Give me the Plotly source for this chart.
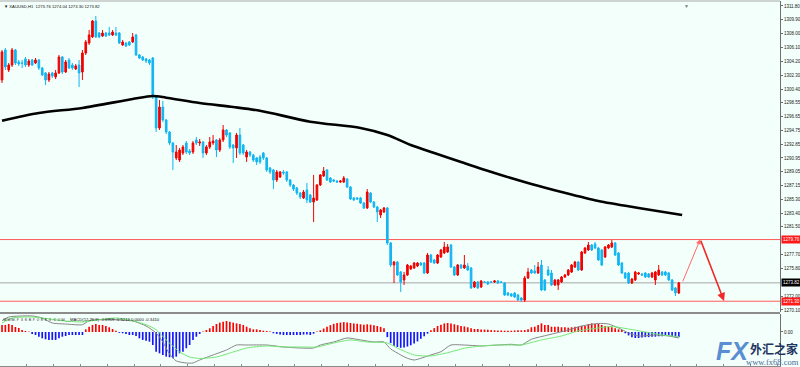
import plotly.graph_objects as go

# ---------------- data ----------------
header_text = "▼ XAUUSD,H1  1273.76 1274.04 1273.30 1273.82"
macd_text = "ＷＷＷ.ＦＸ６８ＦＯＲＥＸ.ＣＯＭ__MACD(12,26,9) -0.6919 -0.5213 0.0000 -0.3410"

opens = [
    1301.65, 1305.76, 1303.02, 1303.70, 1305.76, 1304.12, 1303.98, 1304.53, 1303.70, 1304.39,
    1303.98, 1304.39, 1303.29, 1302.61, 1301.65, 1302.61, 1302.06, 1302.61, 1304.80, 1302.74,
    1304.39, 1303.70, 1303.16, 1303.70, 1302.74, 1305.35, 1306.72, 1307.55, 1309.74, 1308.09,
    1307.68, 1308.09, 1308.09, 1307.82, 1308.09, 1308.09, 1306.45, 1306.72, 1306.86, 1306.86,
    1307.82, 1305.08, 1304.80, 1304.53, 1304.39, 1304.66, 1299.31, 1295.06, 1297.94, 1296.16,
    1294.51, 1293.00, 1290.95, 1290.67, 1291.63, 1293.00, 1291.91, 1291.77, 1293.42, 1293.00,
    1293.14, 1291.63, 1292.46, 1293.00, 1293.42, 1292.04, 1293.42, 1294.79, 1294.38, 1292.73,
    1292.32, 1294.10, 1292.73, 1291.08, 1291.77, 1291.36, 1290.95, 1291.08, 1291.63, 1290.95,
    1289.58, 1289.30, 1287.93, 1288.34, 1289.03, 1289.03, 1287.93, 1287.24, 1286.83, 1286.14,
    1285.46, 1286.56, 1285.87, 1284.91, 1285.19, 1287.24, 1288.48, 1289.30, 1288.20, 1287.93,
    1287.79, 1287.65, 1287.65, 1288.06, 1286.97, 1285.46, 1285.46, 1285.46, 1284.77, 1284.09,
    1286.14, 1284.91, 1284.23, 1283.13, 1283.54, 1284.09, 1279.29, 1276.27, 1276.68, 1275.31,
    1274.21, 1274.90, 1275.72, 1275.86, 1276.13, 1276.54, 1276.54, 1275.17, 1277.64, 1276.96,
    1276.54, 1277.37, 1277.92, 1278.05, 1279.01, 1275.99, 1274.90, 1276.27, 1275.86, 1276.13,
    1275.86, 1273.25, 1273.94, 1273.25, 1273.94, 1273.94, 1273.94, 1273.94, 1274.08, 1273.94,
    1273.80, 1272.43, 1272.29, 1272.43, 1272.16, 1271.74, 1271.47, 1274.49, 1275.58, 1275.45,
    1275.17, 1276.27, 1274.21, 1275.58, 1275.17, 1273.53, 1273.53, 1273.94, 1274.62, 1274.90,
    1275.31, 1275.99, 1276.68, 1275.58, 1277.92, 1278.33, 1279.01, 1279.15, 1278.60, 1278.33,
    1277.37, 1278.60, 1278.74, 1279.29, 1277.92, 1276.54, 1275.17, 1275.17, 1273.80, 1274.21,
    1275.04, 1275.04, 1275.17, 1275.04, 1274.62, 1274.21, 1274.90, 1275.31, 1275.31, 1275.17,
    1274.21, 1273.12, 1272.43,
]
highs = [
    1305.76, 1306.04, 1303.98, 1306.04, 1305.90, 1304.39, 1304.39, 1304.80, 1304.53, 1304.53,
    1304.66, 1304.53, 1303.43, 1302.74, 1302.74, 1302.74, 1303.02, 1305.08, 1304.94, 1304.39,
    1304.66, 1303.98, 1303.84, 1304.39, 1305.76, 1307.13, 1308.50, 1309.88, 1310.43, 1308.23,
    1308.50, 1308.23, 1308.92, 1308.50, 1308.92, 1308.23, 1307.13, 1306.86, 1307.00, 1308.09,
    1307.96, 1305.21, 1304.94, 1304.66, 1304.53, 1304.80, 1299.45, 1298.90, 1298.77, 1296.30,
    1294.65, 1293.14, 1292.73, 1292.32, 1292.73, 1293.28, 1292.18, 1293.28, 1293.83, 1293.55,
    1293.28, 1292.73, 1293.83, 1294.10, 1293.55, 1293.69, 1295.47, 1294.92, 1294.51, 1292.87,
    1294.38, 1295.06, 1292.87, 1292.04, 1291.91, 1291.50, 1291.08, 1291.36, 1291.77, 1291.08,
    1289.71, 1289.44, 1289.30, 1289.16, 1289.30, 1289.16, 1288.06, 1287.38, 1286.97, 1286.28,
    1286.56, 1287.52, 1286.01, 1288.62, 1287.38, 1288.75, 1289.71, 1289.44, 1288.34, 1288.06,
    1287.93, 1287.93, 1288.48, 1288.20, 1287.10, 1285.60, 1285.60, 1285.60, 1284.91, 1286.69,
    1286.28, 1285.05, 1284.36, 1283.95, 1284.23, 1284.23, 1279.43, 1276.82, 1276.82, 1275.45,
    1275.31, 1276.41, 1276.27, 1276.68, 1276.68, 1276.68, 1276.68, 1277.92, 1277.78, 1277.09,
    1277.78, 1278.47, 1279.43, 1279.15, 1279.15, 1276.13, 1276.41, 1276.41, 1277.64, 1276.54,
    1275.99, 1274.08, 1274.08, 1274.21, 1274.08, 1274.08, 1274.08, 1274.21, 1274.21, 1274.08,
    1273.94, 1272.57, 1272.43, 1272.57, 1272.29, 1271.88, 1274.76, 1275.86, 1275.72, 1276.27,
    1276.68, 1276.96, 1274.35, 1276.13, 1275.58, 1274.35, 1274.35, 1274.76, 1275.04, 1275.72,
    1276.41, 1276.82, 1276.82, 1278.19, 1278.74, 1279.43, 1279.15, 1279.43, 1278.74, 1278.47,
    1278.88, 1279.15, 1279.70, 1279.43, 1278.05, 1276.68, 1275.31, 1275.31, 1274.49, 1275.45,
    1275.31, 1275.17, 1275.31, 1275.17, 1275.31, 1275.45, 1276.27, 1275.45, 1275.45, 1275.31,
    1274.35, 1273.25, 1273.94,
]
lows = [
    1301.23, 1303.02, 1302.74, 1303.43, 1303.70, 1303.57, 1303.29, 1303.43, 1303.43, 1303.57,
    1303.84, 1303.02, 1302.20, 1300.96, 1301.37, 1301.92, 1301.78, 1302.47, 1302.47, 1302.61,
    1303.16, 1303.02, 1303.02, 1300.69, 1301.65, 1305.08, 1306.45, 1307.41, 1307.41, 1307.41,
    1307.55, 1307.55, 1307.68, 1307.68, 1307.68, 1306.58, 1306.31, 1306.17, 1306.31, 1306.72,
    1304.94, 1304.53, 1304.25, 1303.98, 1303.70, 1299.04, 1294.51, 1294.79, 1295.89, 1294.24,
    1292.73, 1289.30, 1290.67, 1290.40, 1291.36, 1291.50, 1291.36, 1291.50, 1292.73, 1292.59,
    1290.95, 1291.36, 1292.18, 1292.73, 1291.08, 1291.77, 1293.14, 1293.83, 1292.18, 1290.26,
    1290.95, 1291.36, 1291.36, 1290.40, 1291.08, 1290.40, 1289.99, 1290.12, 1290.67, 1289.03,
    1288.75, 1286.69, 1287.65, 1288.20, 1288.62, 1287.65, 1286.97, 1286.42, 1285.87, 1285.32,
    1285.32, 1284.77, 1284.77, 1282.17, 1285.05, 1287.10, 1288.34, 1287.79, 1287.52, 1287.65,
    1287.52, 1287.52, 1287.52, 1286.83, 1285.19, 1285.05, 1285.19, 1284.64, 1283.95, 1283.95,
    1284.77, 1284.09, 1282.17, 1282.72, 1283.40, 1279.01, 1275.99, 1273.80, 1274.76, 1272.56,
    1273.53, 1274.76, 1275.58, 1275.72, 1275.99, 1276.13, 1275.04, 1275.04, 1276.54, 1276.41,
    1276.41, 1277.23, 1277.78, 1277.92, 1275.86, 1274.76, 1274.76, 1275.72, 1275.72, 1275.45,
    1272.98, 1273.12, 1272.98, 1273.12, 1273.80, 1273.53, 1273.80, 1273.80, 1273.66, 1273.80,
    1272.02, 1272.02, 1271.88, 1271.74, 1271.33, 1271.19, 1271.19, 1274.35, 1275.04, 1275.04,
    1275.04, 1272.70, 1272.70, 1274.76, 1273.39, 1273.39, 1272.84, 1273.80, 1274.49, 1274.76,
    1275.17, 1275.86, 1275.45, 1275.45, 1277.78, 1278.19, 1278.19, 1278.47, 1276.82, 1276.13,
    1277.23, 1278.47, 1278.60, 1277.50, 1276.13, 1275.04, 1274.35, 1273.66, 1273.66, 1274.08,
    1274.90, 1274.76, 1274.49, 1274.49, 1274.49, 1273.53, 1274.76, 1274.76, 1274.76, 1274.08,
    1272.70, 1272.02, 1272.29,
]
closes = [
    1305.49, 1303.43, 1303.70, 1305.76, 1303.98, 1303.84, 1303.95, 1303.70, 1304.25, 1303.70,
    1304.39, 1303.29, 1302.33, 1301.65, 1302.47, 1302.20, 1302.61, 1304.80, 1302.74, 1304.12,
    1303.29, 1303.29, 1303.57, 1302.61, 1305.35, 1306.86, 1307.82, 1309.74, 1307.55, 1307.55,
    1308.09, 1307.68, 1307.82, 1308.23, 1307.82, 1306.72, 1306.86, 1306.31, 1306.45, 1307.55,
    1305.08, 1304.66, 1304.39, 1304.25, 1303.98, 1299.31, 1295.06, 1297.94, 1296.16, 1294.51,
    1293.00, 1291.77, 1291.77, 1292.04, 1292.46, 1291.77, 1291.63, 1293.00, 1293.00, 1293.14,
    1291.63, 1292.46, 1293.14, 1293.28, 1292.04, 1293.42, 1294.79, 1294.10, 1292.46, 1292.32,
    1294.10, 1291.63, 1291.63, 1291.77, 1291.36, 1290.67, 1290.40, 1290.40, 1290.95, 1289.30,
    1289.03, 1287.93, 1289.03, 1289.03, 1288.89, 1287.93, 1287.24, 1286.69, 1286.14, 1285.60,
    1286.28, 1285.19, 1284.91, 1285.46, 1287.24, 1288.62, 1289.16, 1287.93, 1287.65, 1287.79,
    1287.65, 1287.79, 1288.20, 1286.97, 1285.32, 1285.19, 1285.32, 1284.77, 1284.09, 1286.28,
    1284.91, 1284.23, 1283.54, 1283.81, 1284.09, 1279.29, 1276.27, 1276.68, 1274.90, 1273.94,
    1274.90, 1276.27, 1276.13, 1276.54, 1276.54, 1276.27, 1275.17, 1277.64, 1276.68, 1276.54,
    1277.64, 1278.33, 1278.74, 1278.74, 1275.99, 1274.90, 1276.27, 1275.86, 1276.27, 1275.58,
    1273.12, 1273.94, 1273.12, 1274.08, 1273.90, 1273.66, 1273.92, 1274.08, 1273.80, 1273.90,
    1272.16, 1272.16, 1272.02, 1271.88, 1271.47, 1271.47, 1274.49, 1275.31, 1275.17, 1275.17,
    1275.99, 1272.84, 1272.84, 1274.90, 1273.53, 1274.21, 1274.21, 1274.62, 1274.90, 1275.58,
    1276.27, 1276.68, 1275.58, 1278.05, 1278.60, 1279.01, 1278.33, 1278.60, 1276.96, 1276.27,
    1278.74, 1279.01, 1279.29, 1277.64, 1276.27, 1275.17, 1274.49, 1273.80, 1274.35, 1275.31,
    1275.17, 1274.90, 1274.62, 1274.62, 1275.17, 1275.31, 1275.58, 1274.90, 1274.90, 1274.21,
    1272.84, 1272.43, 1273.82,
]

# moving average (thick black line), sampled at bar indices
ma_index = [0, 11, 24, 39, 45, 49, 59, 69, 77, 92, 107, 115, 122, 129, 137, 147, 158, 167, 178, 190, 203]
ma_values = [1296.06, 1297.12, 1297.81, 1299.04, 1299.45, 1299.22, 1298.49, 1297.94, 1297.43, 1295.93,
             1295.06, 1294.10, 1292.73, 1291.63, 1290.40, 1288.89, 1287.38, 1286.28, 1285.05, 1284.09,
             1283.13]

# horizontal levels
resistance_level = 1279.76
support_level = 1271.30
bid_level = 1273.82

# projected path (arrows)
arrow_x = [203.0, 208.4, 215.5]
arrow_y = [1273.82, 1279.80, 1271.33]

# MACD histogram, one value per bar
macd_hist = [
    0.82, 0.82, 0.93, 0.82, 0.58, 0.47, 0.23, 0.12,
    0.05,
    -0.23, -0.35, -0.55, -0.74, -0.85, -0.93, -0.93, -0.93, -0.74, -0.55, -0.47, -0.35, -0.35, -0.35, -0.35, -0.35,
    0.31, 0.62, 0.82, 0.93, 0.82, 0.82, 0.70, 0.55, 0.35, 0.15,
    -0.10,
    -0.15, -0.23, -0.35, -0.35, -0.47, -0.74, -0.93, -1.01, -1.13, -1.52, -2.30, -2.49, -2.68, -2.88, -2.95, -3.07,
    -2.88, -2.49, -2.30, -1.90, -1.52, -0.93, -0.55, -0.23,
    0.05,
    0.23, 0.43, 0.70, 0.93, 1.09, 1.20, 1.28, 1.20, 1.09, 1.01, 0.93, 0.82, 0.62, 0.43, 0.31, 0.31, 0.23, 0.15, 0.12,
    0.05,
    -0.15, -0.23, -0.30, -0.35, -0.35, -0.35, -0.35, -0.35, -0.35, -0.30, -0.30, -0.35, -0.20,
    0.05,
    0.20, 0.40, 0.60, 0.80, 0.95, 1.05, 1.10, 1.15, 1.10, 1.05, 1.00, 0.95, 0.90, 0.85, 0.90, 0.85, 0.80, 0.70, 0.60, 0.45,
    -0.60, -1.30, -1.60, -1.75, -1.85, -1.80, -1.70, -1.55, -1.35, -1.10, -0.80, -0.50, -0.20,
    0.20, 0.45, 0.70, 0.85, 1.00, 1.05, 1.00, 0.90, 0.80, 0.70, 0.65, 0.55, 0.45, 0.35,
    0.35, 0.30, 0.28, 0.25, 0.22, 0.20, 0.18, 0.18, 0.15, 0.15, 0.15, 0.18, 0.20, 0.20, 0.22,
    0.31, 0.55, 0.62, 0.82, 1.01, 0.82, 0.82, 0.62, 0.62, 0.62, 0.55, 0.55, 0.50, 0.55, 0.62, 0.62, 0.70, 0.70,
    0.93, 1.01, 0.93, 0.93, 0.82, 0.70, 0.62, 0.55, 0.43, 0.31, 0.23,
    -0.15, -0.40, -0.60, -0.70, -0.70, -0.65, -0.60, -0.60, -0.55, -0.55, -0.50, -0.50, -0.45, -0.45, -0.50, -0.55, -0.60,
]

# MACD main (gray) and signal (green) lines, sampled at bar indices
macd_main_index = [0, 2, 9, 12, 15, 19, 24, 26, 28, 34, 39, 43, 46, 48, 50, 52, 55, 57, 59, 63,
                   67, 70, 73, 79, 84, 89, 93, 95, 99, 103, 107, 111, 114, 116, 119, 121, 123, 125, 128, 131,
                   134, 138, 143, 148, 152, 155, 158, 163, 169, 173, 178, 181, 184, 187, 190, 195, 199, 202]
macd_main = [1.32, 1.75, 1.87, 1.63, 1.05, 0.93, 0.85, 1.32, 1.44, 1.44,
             1.28, 0.70, -0.12, -1.17, -2.57, -3.38, -3.62, -3.62, -3.27, -2.68,
             -2.10, -1.52, -1.52, -1.52, -1.75, -1.87, -1.87, -1.52, -1.17, -0.70,
             -0.93, -1.17, -1.17, -1.98, -2.68, -3.07, -3.27, -3.07, -2.68, -2.30,
             -1.52, -1.52, -1.63, -1.52, -1.44, -1.52, -0.85, -0.35, 0.23, 0.70,
             0.99, 0.93, 0.47, -0.12, -0.47, -0.35, -0.47, -0.70]
macd_signal_index = [0, 3, 9, 19, 24, 29, 34, 39, 43, 46, 49, 53, 56, 59, 64, 69, 73, 79, 84, 89,
                     94, 99, 104, 109, 115, 118, 123, 128, 133, 138, 143, 148, 152, 155, 161, 167, 172, 178, 182, 187,
                     192, 197, 202]
macd_signal = [1.05, 1.63, 1.75, 1.28, 1.17, 1.44, 1.63, 1.32, 0.85, 0.27,
               -0.93, -2.33, -2.92, -3.09, -2.92, -2.33, -1.87, -1.63, -1.75, -1.75,
               -1.75, -1.28, -0.93, -1.17, -1.28, -1.87, -2.68, -2.80, -2.42, -1.90,
               -1.63, -1.52, -1.52, -1.52, -0.93, -0.47, 0.12, 0.47, 0.64, 0.35,
               0.0, -0.35, -0.53]
macd_max_label = "2.1007"

price_tick_vals = [1311.80, 1309.90, 1308.00, 1306.10, 1304.20, 1302.30, 1300.40, 1298.55, 1296.65,
                   1294.75, 1292.85, 1290.95, 1289.05, 1287.15, 1285.30, 1283.40, 1281.50, 1277.70,
                   1275.80, 1272.00, 1270.10]
price_tick_text = ["%.2f" % v for v in price_tick_vals]

# ---------------- styling ----------------
BG = "#F3FFFA"
BULL = "#F20000"
BEAR = "#12B5F2"
FONT = "Liberation Sans, Arial, sans-serif"
LEVEL_RED = "#FF5A5A"

bar_index = list(range(len(closes)))

fig = go.Figure()

fig.add_trace(go.Candlestick(
    x=bar_index, open=opens, high=highs, low=lows, close=closes,
    increasing=dict(line=dict(color=BULL, width=1), fillcolor=BULL),
    decreasing=dict(line=dict(color=BEAR, width=1), fillcolor=BEAR),
    whiskerwidth=0, xaxis="x", yaxis="y", hoverinfo="skip", showlegend=False,
))

fig.add_trace(go.Scatter(
    x=ma_index, y=ma_values, mode="lines",
    line=dict(color="#000000", width=2.6, shape="spline", smoothing=0.8),
    xaxis="x", yaxis="y", hoverinfo="skip", showlegend=False,
))

fig.add_trace(go.Bar(
    x=bar_index, y=macd_hist, width=0.5,
    marker=dict(color=["#FF0000" if v >= 0 else "#1414FF" for v in macd_hist], line=dict(width=0)),
    xaxis="x2", yaxis="y2", hoverinfo="skip", showlegend=False,
))
fig.add_trace(go.Scatter(
    x=macd_main_index, y=macd_main, mode="lines",
    line=dict(color="#858585", width=1, shape="spline", smoothing=0.6),
    xaxis="x2", yaxis="y2", hoverinfo="skip", showlegend=False,
))
fig.add_trace(go.Scatter(
    x=macd_signal_index, y=macd_signal, mode="lines",
    line=dict(color="#74E874", width=1, shape="spline", smoothing=0.6),
    xaxis="x2", yaxis="y2", hoverinfo="skip", showlegend=False,
))

shapes = [
    dict(type="line", xref="paper", x0=0, x1=1, yref="y", y0=resistance_level, y1=resistance_level,
         line=dict(color=LEVEL_RED, width=1), layer="below"),
    dict(type="line", xref="paper", x0=0, x1=1, yref="y", y0=support_level, y1=support_level,
         line=dict(color=LEVEL_RED, width=1), layer="below"),
    dict(type="line", xref="paper", x0=0, x1=1, yref="y", y0=bid_level, y1=bid_level,
         line=dict(color="#A6A6A6", width=1), layer="below"),
    # panel separator
    dict(type="rect", xref="paper", x0=0, x1=1, yref="paper", y0=0.1425, y1=0.1479,
         fillcolor="#8C8C8C", line=dict(width=0), layer="above"),
    # top border
    dict(type="line", xref="paper", x0=0, x1=1, yref="paper", y0=1, y1=1,
         line=dict(color="#A8A8A8", width=1)),
]

annotations = [
    dict(text=header_text, xref="paper", yref="paper", x=0, y=1, xanchor="left", yanchor="top",
         xshift=2, yshift=-1, showarrow=False, font=dict(size=4.2, color="#111111", family=FONT)),
    dict(text=macd_text, xref="paper", yref="paper", x=0, y=0.1425, xanchor="left", yanchor="top",
         xshift=1, yshift=-1, showarrow=False, font=dict(size=4.2, color="#111111", family=FONT)),
    # price labels on the axis
    dict(text="%.2f" % resistance_level, xref="paper", yref="y", x=1, y=resistance_level, xanchor="left",
         xshift=1, showarrow=False, bgcolor="#FF1A1A", borderpad=1,
         font=dict(size=4.5, color="#FFFFFF", family=FONT)),
    dict(text="%.2f" % support_level, xref="paper", yref="y", x=1, y=support_level, xanchor="left",
         xshift=1, showarrow=False, bgcolor="#FF1A1A", borderpad=1,
         font=dict(size=4.5, color="#FFFFFF", family=FONT)),
    dict(text="%.2f" % bid_level, xref="paper", yref="y", x=1, y=bid_level, xanchor="left",
         xshift=1, showarrow=False, bgcolor="#000000", borderpad=1,
         font=dict(size=4.5, color="#FFFFFF", family=FONT)),
    dict(text=macd_max_label, xref="paper", yref="y2", x=1, y=2.1007, xanchor="left", yanchor="top",
         xshift=3, showarrow=False, font=dict(size=4.5, color="#222222", family=FONT)),
    # projected path arrows
    dict(text="", x=arrow_x[1], y=arrow_y[1], ax=arrow_x[0], ay=arrow_y[0],
         xref="x", yref="y", axref="x", ayref="y", showarrow=True,
         arrowhead=2, arrowsize=1, arrowwidth=1, arrowcolor="#FF6A6A", standoff=0),
    dict(text="", x=arrow_x[2], y=arrow_y[2], ax=arrow_x[1], ay=arrow_y[1],
         xref="x", yref="y", axref="x", ayref="y", showarrow=True,
         arrowhead=2, arrowsize=1, arrowwidth=1.6, arrowcolor="#F02828", standoff=0),
    # chart shift marker
    dict(text="▼", xref="paper", yref="paper", x=686 / 780, y=1, xanchor="center", yanchor="top",
         showarrow=False, font=dict(size=5, color="#7A7A7A", family=FONT)),
    # watermark
    dict(text="<b><i>FX</i></b>", xref="paper", yref="paper", x=0.9385, y=0.042, xanchor="center",
         yanchor="middle", showarrow=False,
         font=dict(size=25, color="#5A8ED2", family="Liberation Sans, Arial, sans-serif")),
    dict(text="<b>外汇之家</b>", xref="paper", yref="paper", x=0.9925, y=0.047, xanchor="center",
         yanchor="middle", showarrow=False,
         font=dict(size=12, color="#1D3461", family="Noto Sans CJK SC")),
    dict(text="www.fx68.com", xref="paper", yref="paper", x=0.990, y=0.012, xanchor="center",
         yanchor="middle", showarrow=False,
         font=dict(size=8.5, color="#4D6E9E", family="Liberation Serif, serif")),
]

fig.update_layout(
    width=800, height=367,
    margin=dict(l=0, r=20, t=1, b=1),
    paper_bgcolor=BG, plot_bgcolor=BG,
    showlegend=False,
    shapes=shapes, annotations=annotations,
    xaxis=dict(domain=[0, 1], range=[-0.6, 232.2], anchor="y", showticklabels=False,
               showgrid=False, zeroline=False, rangeslider=dict(visible=False), fixedrange=True),
    xaxis2=dict(domain=[0, 1], matches="x", anchor="y2", showticklabels=False, showgrid=False,
                zeroline=False, showline=True, linecolor="#8A8A8A", linewidth=1,
                ticks="inside", ticklen=2, tickcolor="#8A8A8A", tick0=7.4, dtick=8),
    yaxis=dict(domain=[0.1479, 1], range=[1269.82, 1312.48], side="right", anchor="x",
               showline=True, linecolor="#6E6E6E", linewidth=1, ticks="outside", ticklen=2,
               tickcolor="#6E6E6E", tickvals=price_tick_vals, ticktext=price_tick_text,
               tickfont=dict(size=4.5, color="#222222", family=FONT),
               showgrid=False, zeroline=False, automargin=False),
    yaxis2=dict(domain=[0, 0.1425], range=[-3.97, 2.10], side="right", anchor="x2",
                showline=True, linecolor="#6E6E6E", linewidth=1, ticks="outside", ticklen=2,
                tickcolor="#6E6E6E", tickvals=[0], ticktext=["0.00"],
                tickfont=dict(size=4.5, color="#222222", family=FONT),
                showgrid=False, zeroline=False, automargin=False),
)

fig.write_html(
    "out.html",
    config={"displayModeBar": False, "staticPlot": True},
    post_script="document.body.style.margin='0px';document.body.style.padding='0px';"
                "document.body.style.overflow='hidden';",
)
